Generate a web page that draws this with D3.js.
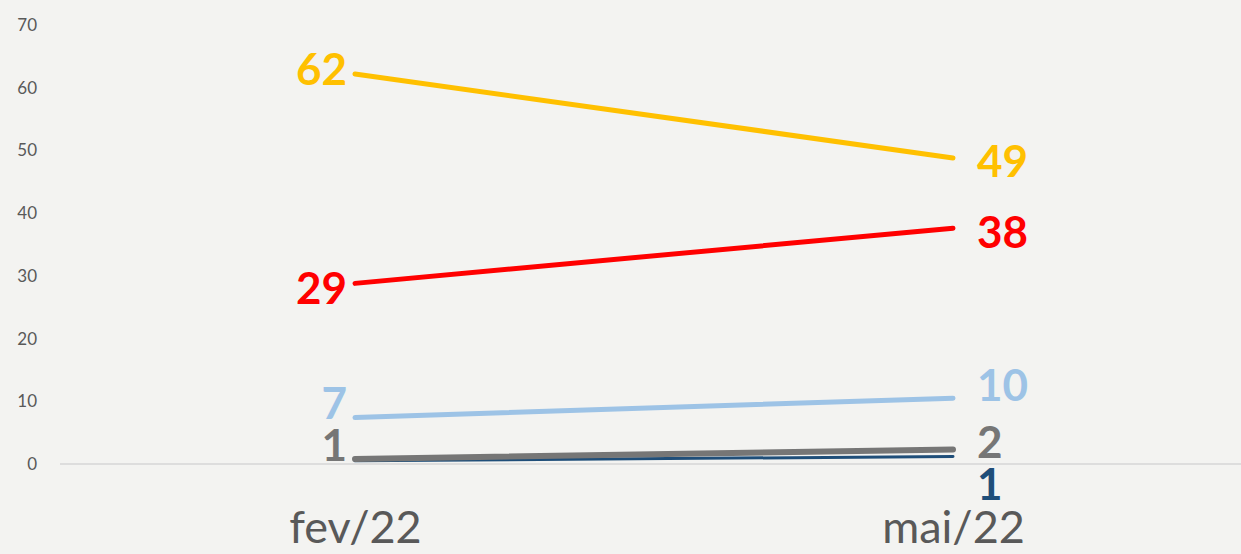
<!DOCTYPE html>
<html>
<head>
<meta charset="utf-8">
<script src="https://cdn.jsdelivr.net/npm/d3@7"></script>
<style>
  html, body { margin: 0; padding: 0; background: #f3f3f1; }
  svg { display: block; }
</style>
</head>
<body>
<svg width="1241" height="554"></svg>
<script>
var categories = ["fev/22", "mai/22"];
var yTicks = [0, 10, 20, 30, 40, 50, 60, 70];

var yellow = [62.2, 48.8];
var red = [28.8, 37.6];
var lightBlue = [7.4, 10.5];
var gray = [0.8, 2.3];
var darkBlue = [0.5, 1.2];

var labelsYellow = [62, 49];
var labelsRed = [29, 38];
var labelsLightBlue = [7, 10];
var labelsGray = [1, 2];
var labelsDarkBlue = [null, 1];

// label nudges so the small values don't collide (like the original)
var series = [
  { values: darkBlue, labels: labelsDarkBlue, color: "#1f4e79", width: 3, dy: [0, 28] },
  { values: gray, labels: labelsGray, color: "#767676", width: 6, dy: [-13, -7] },
  { values: lightBlue, labels: labelsLightBlue, color: "#9dc3e6", width: 5, dy: [-14, -13] },
  { values: red, labels: labelsRed, color: "#ff0000", width: 5, dy: [5, 4] },
  { values: yellow, labels: labelsYellow, color: "#ffc000", width: 5, dy: [-4, 4] }
];

var svg = d3.select("svg"),
    width = +svg.attr("width"),
    height = +svg.attr("height");

var x = d3.scalePoint()
    .domain(categories)
    .range([355, 953]);

var y = d3.scaleLinear()
    .domain([0, 70])
    .range([464, 25]);

// baseline
svg.append("line")
    .attr("x1", 60).attr("x2", width)
    .attr("y1", y(0)).attr("y2", y(0))
    .attr("stroke", "#d6d6d6")
    .attr("stroke-width", 1.5);

// y axis
var yAxis = svg.append("g")
    .attr("transform", "translate(37,0)")
    .call(d3.axisLeft(y).tickValues(yTicks).tickSize(0).tickPadding(0));
yAxis.select(".domain").remove();
yAxis.selectAll("text")
    .attr("fill", "#595959")
    .attr("font-family", "Lato, sans-serif")
    .attr("font-size", 17);

// x axis
var xAxis = svg.append("g")
    .attr("transform", "translate(0,507)")
    .call(d3.axisBottom(x).tickSize(0).tickPadding(0));
xAxis.select(".domain").remove();
xAxis.selectAll("text")
    .attr("fill", "#595959")
    .attr("font-family", "Lato, sans-serif")
    .attr("font-size", 45)
    .attr("dy", "0.8em");

var line = d3.line()
    .x(function(d, i) { return x(categories[i]); })
    .y(function(d) { return y(d); });

var g = svg.append("g").selectAll("g")
    .data(series)
    .enter().append("g");

g.append("path")
    .attr("d", function(d) { return line(d.values); })
    .attr("fill", "none")
    .attr("stroke", function(d) { return d.color; })
    .attr("stroke-width", function(d) { return d.width; })
    .attr("stroke-linecap", "round");

g.each(function(s) {
  var grp = d3.select(this);
  s.values.forEach(function(v, i) {
    if (s.labels[i] == null) return;
    grp.append("text")
        .attr("x", x(categories[i]) + (i === 0 ? -8 : 24))
        .attr("y", y(v) + s.dy[i])
        .attr("dy", "0.35em")
        .attr("text-anchor", i === 0 ? "end" : "start")
        .attr("fill", s.color)
        .attr("font-family", "Lato, sans-serif")
        .attr("font-weight", "bold")
        .attr("font-size", 44)
        .text(s.labels[i]);
  });
});
</script>
</body>
</html>
